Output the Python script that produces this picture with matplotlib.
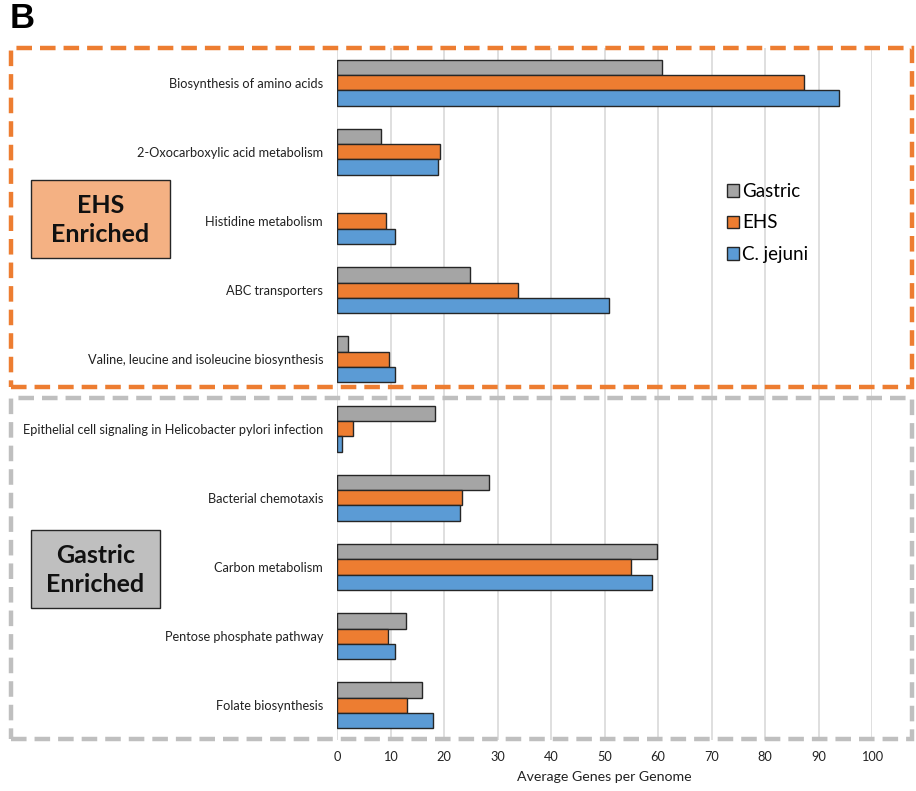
import matplotlib
matplotlib.use("Agg")
import matplotlib.pyplot as plt
from matplotlib.patches import Rectangle
import numpy as np

categories = [
    "Biosynthesis of amino acids",
    "2-Oxocarboxylic acid metabolism",
    "Histidine metabolism",
    "ABC transporters",
    "Valine, leucine and isoleucine biosynthesis",
    "Epithelial cell signaling in Helicobacter pylori infection",
    "Bacterial chemotaxis",
    "Carbon metabolism",
    "Pentose phosphate pathway",
    "Folate biosynthesis",
]
gastric = [60.7, 8.3, 0.0, 24.8, 2.1, 18.3, 28.5, 59.9, 12.9, 15.9]
ehs = [87.3, 19.3, 9.1, 33.8, 9.7, 3.0, 23.4, 54.9, 9.5, 13.1]
cjejuni = [93.8, 18.9, 10.9, 50.9, 10.9, 1.0, 22.9, 58.8, 10.9, 17.9]
series_names = ["Gastric", "EHS", "C. jejuni"]
xticks = list(range(0, 101, 10))

plt.rcParams['font.family'] = ['Lato', 'DejaVu Sans']

W, H = 916, 791
fig = plt.figure(figsize=(W / 100, H / 100), dpi=100)

def fx(px):
    return px / W

def fy(py):
    return 1 - py / H

ax = fig.add_axes([fx(337), fy(740), fx(872) - fx(337), fy(48) - fy(740)])

colors = ["#A5A5A5", "#ED7D31", "#5B9BD5"]
h = 0.222
y = np.arange(len(categories))
for i, (vals, c, name) in enumerate(zip([gastric, ehs, cjejuni], colors, series_names)):
    bars = ax.barh(y + (i - 1) * h, vals, height=h, color=c, edgecolor="#262626",
                   linewidth=1.0, label=name, zorder=3)
    for b, v in zip(bars, vals):
        if v == 0:
            b.set_linewidth(0)

ax.set_ylim(len(categories) - 0.5, -0.5)
ax.set_xlim(0, 100)
ax.set_yticks(y)
ax.set_yticklabels(categories, fontsize=9.2, color="#222222")
ax.set_xticks(xticks)
ax.set_xticklabels([str(t) for t in xticks], fontsize=9.2, color="#222222")
ax.tick_params(axis="both", length=0, pad=8)
ax.tick_params(axis="y", pad=10)
ax.grid(axis="x", color="#D9D9D9", linewidth=1.2, zorder=0)
for s in ax.spines.values():
    s.set_visible(False)
ax.set_xlabel("Average Genes per Genome", fontsize=10.2, color="#222222", labelpad=6)

leg = fig.legend(loc="upper left", bbox_to_anchor=(fx(710), fy(166)), frameon=False,
                 fontsize=13.5, handlelength=0.65, handleheight=0.65, labelspacing=0.78,
                 handletextpad=0.15)

# dashed group boxes
fig.patches.append(Rectangle((fx(11), fy(387)), fx(912) - fx(11), fy(48) - fy(387),
                             transform=fig.transFigure, fill=False, edgecolor="#ED7D31",
                             linewidth=3.2, linestyle=(0, (3.5, 1.8)), zorder=10))
fig.patches.append(Rectangle((fx(11), fy(739)), fx(912) - fx(11), fy(398) - fy(739),
                             transform=fig.transFigure, fill=False, edgecolor="#BFBFBF",
                             linewidth=3.2, linestyle=(0, (3.5, 1.8)), zorder=10))

# label boxes
fig.patches.append(Rectangle((fx(31), fy(258)), fx(170) - fx(31), fy(180) - fy(258),
                             transform=fig.transFigure, facecolor="#F4B183",
                             edgecolor="#262626", linewidth=1.0, zorder=5))
fig.text(fx(100.5), fy(220), "EHS\nEnriched", ha="center", va="center", fontsize=18,
         fontweight="bold", color="#111111", linespacing=1.3, zorder=6)
fig.patches.append(Rectangle((fx(31), fy(608)), fx(160) - fx(31), fy(530) - fy(608),
                             transform=fig.transFigure, facecolor="#BFBFBF",
                             edgecolor="#262626", linewidth=1.0, zorder=5))
fig.text(fx(95.5), fy(570), "Gastric\nEnriched", ha="center", va="center", fontsize=18,
         fontweight="bold", color="#111111", linespacing=1.3, zorder=6)

fig.text(fx(10), fy(18), "B", ha="left", va="center", fontsize=25, fontweight="bold",
         family=["Liberation Sans", "DejaVu Sans"], color="black")

fig.savefig("out.png", dpi=100)
